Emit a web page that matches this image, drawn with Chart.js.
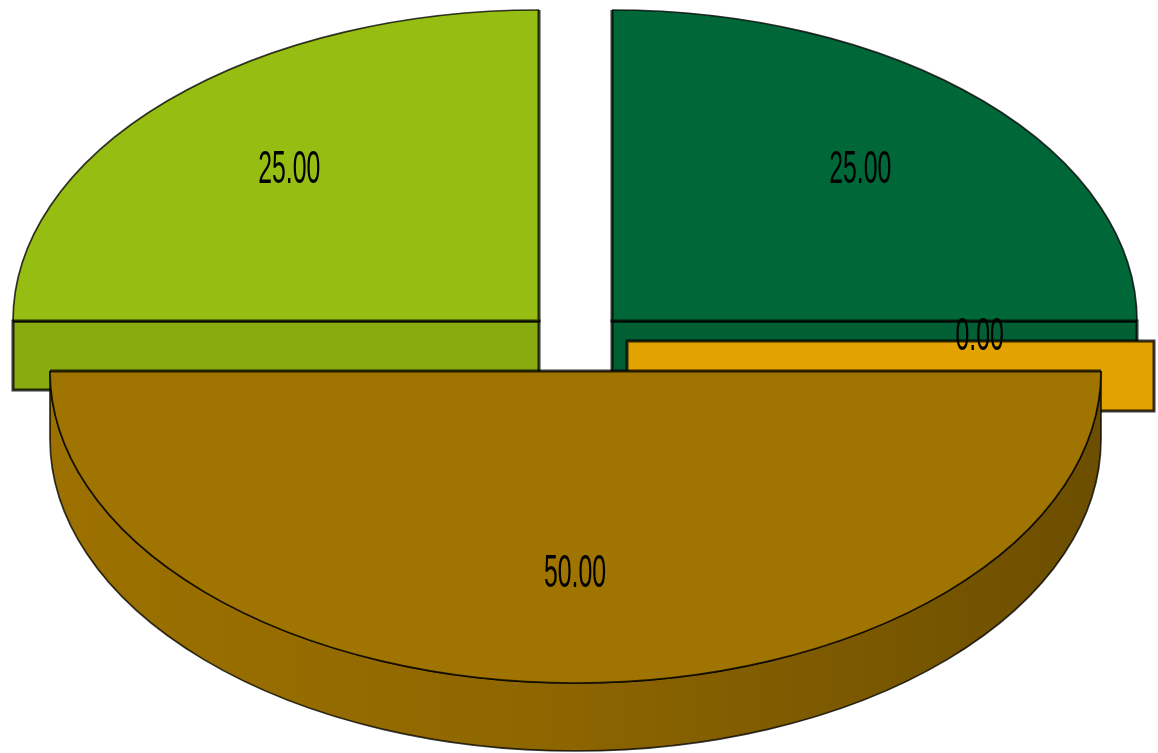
<!DOCTYPE html>
<html>
<head>
<meta charset="utf-8">
<title>Pie</title>
<script src="https://cdn.jsdelivr.net/npm/chart.js@4/dist/chart.umd.min.js"></script>
<style>
  html, body { margin: 0; padding: 0; background: #fff; overflow: hidden; }
  canvas { display: block; }
</style>
</head>
<body>
<canvas id="pie" width="1158" height="753"></canvas>
<script>
// clockwise from 12 o'clock
const categories = ["A", "B", "C", "D"];
const values = [25, 0, 50, 25];
const topColors = ["#006838", "#e2a200", "#a07400", "#96be12"];
const sideColors = ["#005f33", "#e2a200", "#8a6300", "#88ac10"];

// how far each slice is pulled out of the pie, px
const shiftX = [33, 48, -3.5, -40];
const shiftY = [-55.5, -35.5, -5.5, -55.5];

// flattened radii and rim height per slice
const radiusX = [525, 527, 525.5, 526];
const radiusY = [311, 311, 312, 311];
const depth = [69, 70, 68, 69];

const EDGE = "rgba(0,0,0,0.78)";
const EDGE_WIDTH = 3;
const CURVE_WIDTH = 1.7;

function drawSide(ctx, arc, i, cx, cy) {
  const a0 = arc.startAngle, a1 = arc.endAngle;
  const rx = radiusX[i], ry = radiusY[i], h = depth[i];
  let x0 = null, x1 = null;
  if (Math.abs(Math.cos(a1) - 1) < 1e-6) { x0 = cx; x1 = cx + rx; }       // cut face looking right
  else if (Math.abs(Math.cos(a0) + 1) < 1e-6) { x0 = cx - rx; x1 = cx; }  // cut face looking left

  ctx.strokeStyle = EDGE;
  if (x0 !== null) {
    ctx.lineWidth = EDGE_WIDTH;
    ctx.fillStyle = sideColors[i];
    ctx.fillRect(x0, cy, x1 - x0, h);
    ctx.strokeRect(x0, cy, x1 - x0, h);
  } else {
    // rim of the front slice, shaded left to right
    const g = ctx.createLinearGradient(cx - rx, 0, cx + rx, 0);
    g.addColorStop(0, "#9c7100");
    g.addColorStop(0.45, "#8f6700");
    g.addColorStop(1, "#6c4e00");
    ctx.lineWidth = CURVE_WIDTH;
    ctx.beginPath();
    ctx.ellipse(cx, cy, rx, ry, 0, a0, a1);
    ctx.lineTo(cx - rx, cy + h);
    ctx.ellipse(cx, cy + h, rx, ry, 0, a1, a0, true);
    ctx.closePath();
    ctx.fillStyle = g;
    ctx.fill();
    ctx.stroke();
  }
}

const pie3d = {
  id: "pie3d",
  beforeDatasetDraw(chart) {
    const ctx = chart.ctx;
    const arcs = chart.getDatasetMeta(0).data;
    const order = arcs.map((a, i) => i).sort((p, q) => shiftY[p] - shiftY[q]);

    order.forEach(i => {
      const arc = arcs[i];
      const cx = arc.x + shiftX[i];
      const cy = arc.y + shiftY[i];
      const rx = radiusX[i], ry = radiusY[i];
      const a0 = arc.startAngle, a1 = arc.endAngle;
      ctx.save();
      drawSide(ctx, arc, i, cx, cy);

      // the flat top is the library's own arc, squashed into an ellipse
      ctx.save();
      ctx.translate(cx, cy);
      ctx.scale(rx / arc.outerRadius, ry / arc.outerRadius);
      ctx.translate(-arc.x, -arc.y);
      arc.draw(ctx);
      ctx.restore();

      if (values[i] > 0) {
        ctx.strokeStyle = EDGE;
        ctx.lineWidth = CURVE_WIDTH;
        ctx.beginPath();
        ctx.ellipse(cx, cy, rx, ry, 0, a0, a1);
        ctx.stroke();
        // straight cut edges are heavier
        ctx.lineWidth = EDGE_WIDTH;
        ctx.beginPath();
        ctx.moveTo(cx + Math.cos(a0) * rx, cy + Math.sin(a0) * ry);
        ctx.lineTo(cx, cy);
        ctx.lineTo(cx + Math.cos(a1) * rx, cy + Math.sin(a1) * ry);
        ctx.stroke();
      }
      ctx.restore();
    });

    // value labels, tall and narrow like the original
    order.forEach(i => {
      const arc = arcs[i];
      const mid = (arc.startAngle + arc.endAngle) / 2;
      const x = arc.x + shiftX[i] + Math.cos(mid) * radiusX[i] * 0.67 - 0.5;
      const y = arc.y + shiftY[i] + Math.sin(mid) * radiusY[i] * 0.665 - 4;
      ctx.save();
      ctx.translate(x, y);
      ctx.scale(0.54, 1);
      ctx.font = "46px 'Liberation Sans'";
      ctx.textAlign = "center";
      ctx.textBaseline = "middle";
      ctx.fillStyle = "#000";
      ctx.fillText(values[i].toFixed(2), 0, 0);
      ctx.restore();
    });
    return false;
  }
};

new Chart(document.getElementById("pie"), {
  type: "pie",
  data: {
    labels: categories,
    datasets: [{
      data: values,
      backgroundColor: topColors,
      borderWidth: 0
    }]
  },
  options: {
    responsive: false,
    animation: false,
    plugins: { legend: { display: false }, tooltip: { enabled: false } }
  },
  plugins: [pie3d]
});
</script>
</body>
</html>
